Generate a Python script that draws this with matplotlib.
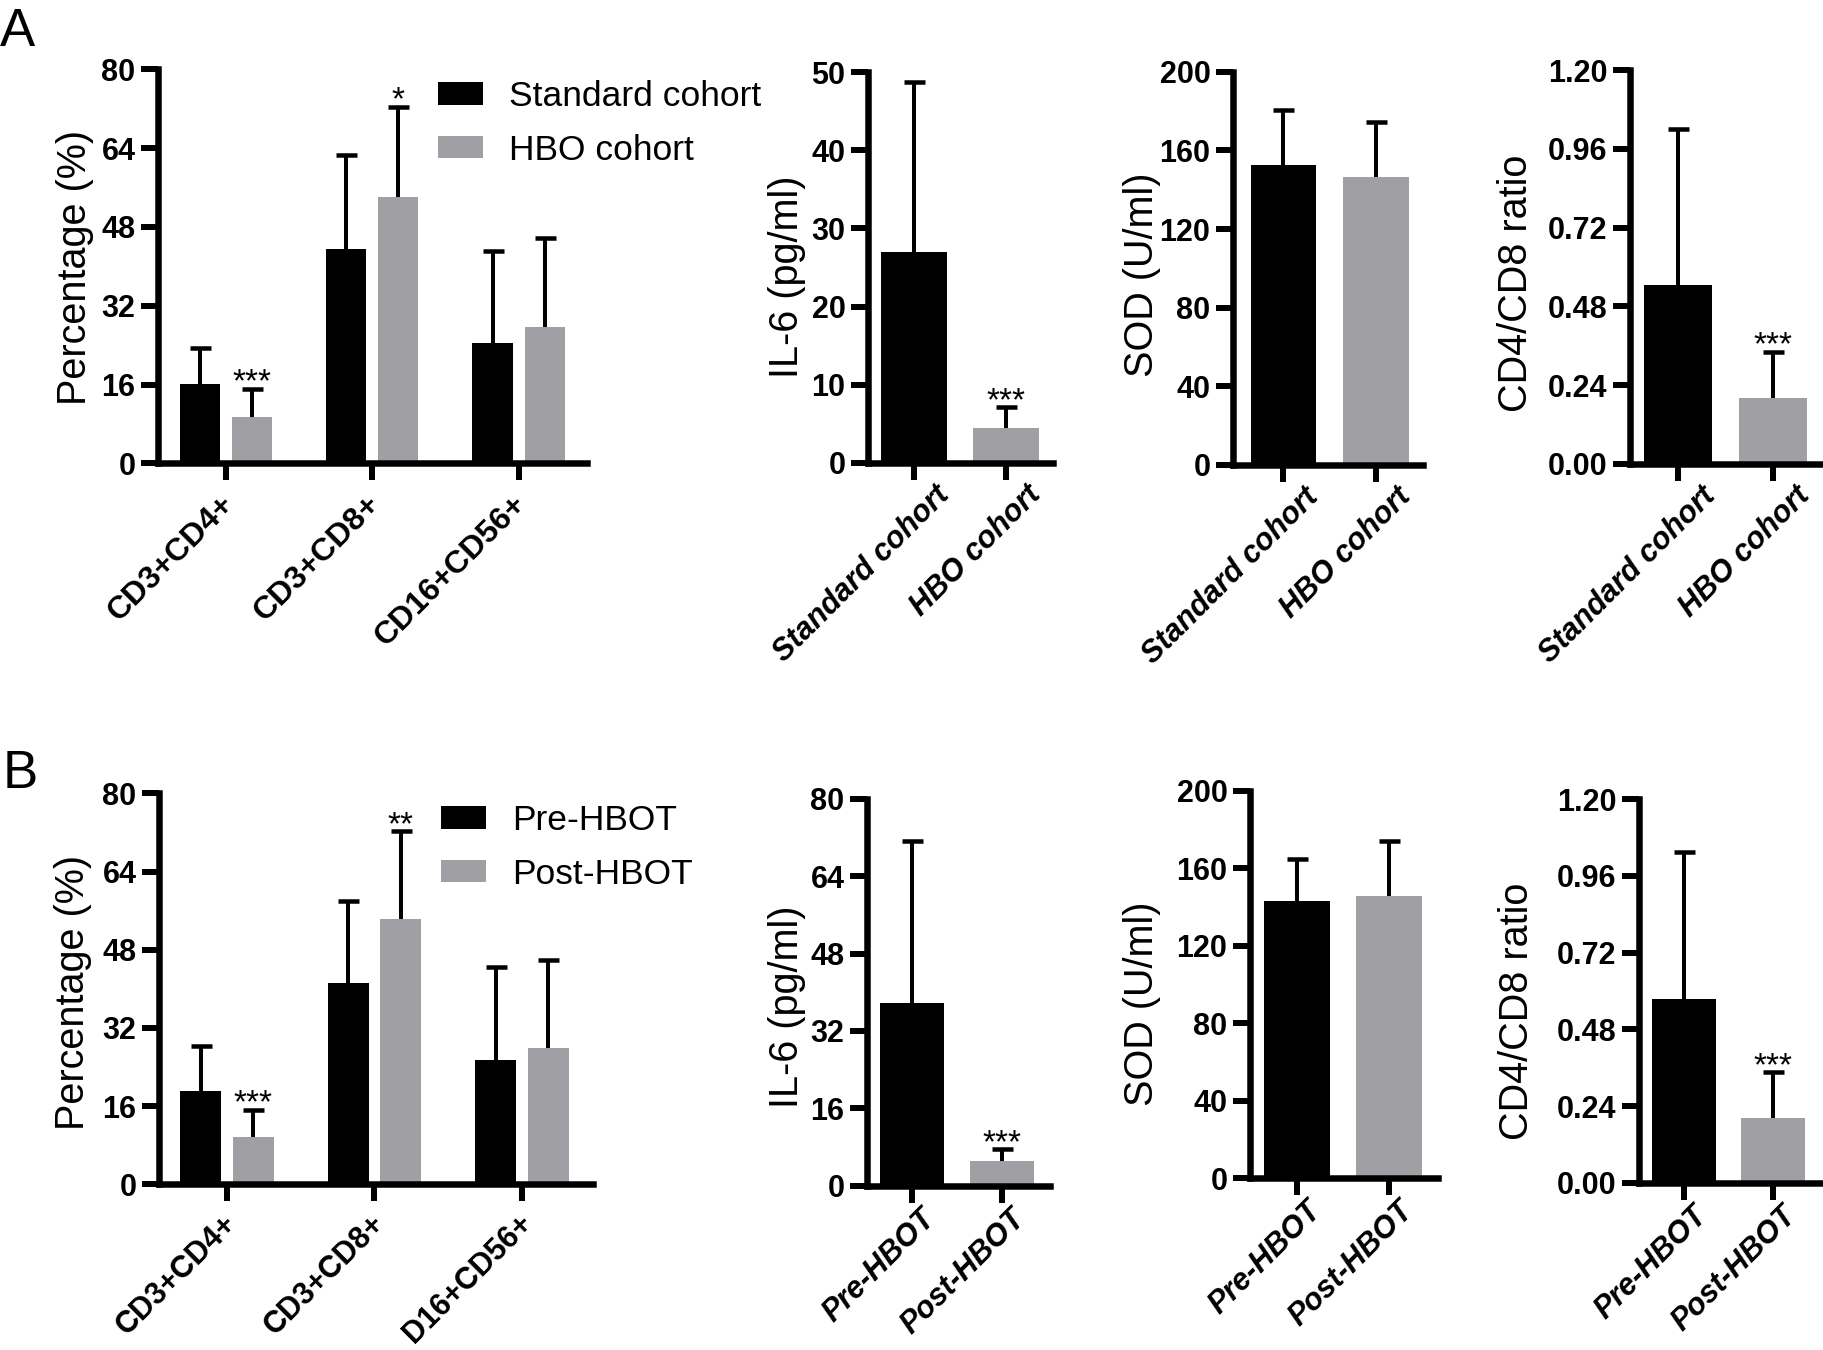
import matplotlib
matplotlib.use('Agg')
import matplotlib.pyplot as plt
from matplotlib.transforms import ScaledTranslation
from matplotlib.patches import Patch
import numpy as np

plt.rcParams['font.family'] = ['Liberation Sans', 'DejaVu Sans']

# ---------------- data ----------------
cohort_groups = ['Standard cohort', 'HBO cohort']
hbot_groups = ['Pre-HBOT', 'Post-HBOT']
cells_A = ['CD3+CD4+', 'CD3+CD8+', 'CD16+CD56+']
cells_B = ['CD3+CD4+', 'CD3+CD8+', 'D16+CD56+']

# Panel A
A_cells_std_mean = [16.2, 43.6, 24.4]
A_cells_std_sd = [7.2, 19.0, 18.7]
A_cells_hbo_mean = [9.5, 54.1, 27.7]
A_cells_hbo_sd = [5.6, 18.3, 18.1]
A_cells_hbo_sig = ['***', '*', '']

A_il6_mean = [27.0, 4.5]
A_il6_sd = [21.7, 2.6]
A_il6_sig = ['', '***']

A_sod_mean = [152.4, 146.5]
A_sod_sd = [27.9, 28.1]
A_sod_sig = ['', '']

A_ratio_mean = [0.545, 0.202]
A_ratio_sd = [0.474, 0.140]
A_ratio_sig = ['', '***']

# Panel B
B_cells_pre_mean = [19.1, 41.1, 25.4]
B_cells_pre_sd = [9.2, 16.9, 19.1]
B_cells_post_mean = [9.7, 54.2, 27.9]
B_cells_post_sd = [5.6, 18.0, 18.0]
B_cells_post_sig = ['***', '**', '']

B_il6_mean = [37.8, 5.1]
B_il6_sd = [33.5, 2.4]
B_il6_sig = ['', '***']

B_sod_mean = [142.9, 145.8]
B_sod_sd = [22.0, 28.2]
B_sod_sig = ['', '']

B_ratio_mean = [0.576, 0.203]
B_ratio_sd = [0.458, 0.142]
B_ratio_sig = ['', '***']

ticks_pct = [0, 16, 32, 48, 64, 80]
ticks_il6_A = [0, 10, 20, 30, 40, 50]
ticks_il6_B = [0, 16, 32, 48, 64, 80]
ticks_sod = [0, 40, 80, 120, 160, 200]
ticks_ratio = [0.00, 0.24, 0.48, 0.72, 0.96, 1.20]

ylab_pct = 'Percentage (%)'
ylab_il6 = 'IL-6 (pg/ml)'
ylab_sod = 'SOD (U/ml)'
ylab_ratio = 'CD4/CD8 ratio'

# ---------------- style ----------------
BLACK = '#000000'
GRAY = '#A0A0A4'
W, H = 1824, 1350
DPI = 100
PX = 72.0 / DPI  # points per pixel

fig = plt.figure(figsize=(W / DPI, H / DPI), dpi=DPI)
fig.patch.set_facecolor('white')


def add_ax(box, tick_px):
    l, r, t, b = box
    ax = fig.add_axes([l / W, 1 - b / H, (r - l) / W, (b - t) / H])
    sp = tick_px[1] - tick_px[0]
    ax.set_xlim((l - tick_px[0]) / sp, (r - tick_px[0]) / sp)
    return ax


def style(ax, yticks, fmt, xticks, xlabels, italic, xsize, xpad, dx_px,
          ylabel, ylab_center, box):
    ax.set_ylim(yticks[0], yticks[-1])
    ax.set_yticks(yticks)
    ax.set_yticklabels([fmt.format(v) for v in yticks])
    for s in ['top', 'right']:
        ax.spines[s].set_visible(False)
    for s in ['left', 'bottom']:
        ax.spines[s].set_linewidth(6.5 * PX)
        ax.spines[s].set_capstyle('projecting')
    ax.tick_params(axis='both', which='major', direction='out',
                   width=6 * PX, length=17 * PX, labelsize=22)
    ax.tick_params(axis='y', pad=4.0)
    ax.tick_params(axis='x', pad=xpad)
    for lab in ax.get_yticklabels():
        lab.set_fontweight('bold')
    ax.set_xticks(xticks)
    ax.set_xticklabels(xlabels, rotation=45, ha='right', va='top',
                       rotation_mode='anchor', fontsize=xsize, fontweight='bold',
                       fontstyle='italic' if italic else 'normal')
    off = ScaledTranslation(dx_px / DPI, 0, fig.dpi_scale_trans)
    for lab in ax.xaxis.get_majorticklabels():
        lab.set_transform(lab.get_transform() + off)
    ax.set_ylabel(ylabel, fontsize=28.5, va='center', ha='center')
    l, r, t, b = box
    cx, cy = ylab_center
    ax.yaxis.set_label_coords((cx - l) / (r - l), (b - cy) / (b - t))


def draw_bars(ax, x, means, sds, color, width, sig=None):
    x = np.asarray(x, dtype=float)
    means = np.asarray(means, dtype=float)
    tops = means + np.asarray(sds, dtype=float)
    ax.bar(x, means, width, color=color, linewidth=0, zorder=1)
    ax.vlines(x, means, tops, colors='black', linewidth=4 * PX, zorder=2)
    ax.plot(x, tops, linestyle='none', marker='_', markersize=21 * PX,
            markeredgewidth=4.5 * PX, color='black', zorder=2)
    if sig is not None:
        for xi, ti, s in zip(x, tops, sig):
            if s:
                ax.annotate(s, (xi, ti), xytext=(0, -2), textcoords='offset points',
                            ha='center', va='baseline', fontsize=24)


def legend(ax, labels, l_px, t_px):
    handles = [Patch(facecolor=BLACK, edgecolor='none'),
               Patch(facecolor=GRAY, edgecolor='none')]
    ax.legend(handles, labels, loc='upper left',
              bbox_to_anchor=(l_px / W, 1 - t_px / H), bbox_transform=fig.transFigure,
              frameon=False, fontsize=25.5, handlelength=1.27, handleheight=0.6,
              handletextpad=0.73, labelspacing=0.58, borderpad=0, borderaxespad=0)


def grouped_panel(box, tick_px, m1, s1, m2, s2, sig2, cats, groups, xsize, xpad, dx,
                  ylab_c, leg_pos):
    ax = add_ax(box, tick_px)
    x = np.arange(len(cats))
    draw_bars(ax, x - 0.178, m1, s1, BLACK, 0.275)
    draw_bars(ax, x + 0.178, m2, s2, GRAY, 0.275, sig2)
    style(ax, ticks_pct, '{:.0f}', x, cats, False, xsize, xpad, dx, ylab_pct, ylab_c, box)
    legend(ax, groups, *leg_pos)
    return ax


def pair_panel(box, tick_px, means, sds, sig, groups, yticks, fmt, ylabel, xpad, dx, ylab_c):
    ax = add_ax(box, tick_px)
    x = np.arange(len(groups))
    draw_bars(ax, x[:1], means[:1], sds[:1], BLACK, 0.71, sig[:1])
    draw_bars(ax, x[1:], means[1:], sds[1:], GRAY, 0.71, sig[1:])
    style(ax, yticks, fmt, x, groups, True, 22, xpad, dx, ylabel, ylab_c, box)
    return ax


# ---------------- Panel A ----------------
grouped_panel((158, 587, 69.3, 463.3), (226, 372.3),
              A_cells_std_mean, A_cells_std_sd, A_cells_hbo_mean, A_cells_hbo_sd,
              A_cells_hbo_sig, cells_A, cohort_groups, 23, 6.5, -7, (75, 267), (438, 80))
pair_panel((868, 1053, 72.3, 462.7), (914, 1006), A_il6_mean, A_il6_sd, A_il6_sig,
           cohort_groups, ticks_il6_A, '{:.0f}', ylab_il6, 0, 20, (787, 277))
pair_panel((1233, 1423, 71.7, 465), (1283.5, 1376), A_sod_mean, A_sod_sd, A_sod_sig,
           cohort_groups, ticks_sod, '{:.0f}', ylab_sod, 0, 20, (1142, 275))
pair_panel((1630, 1822, 70, 464), (1678, 1773), A_ratio_mean, A_ratio_sd, A_ratio_sig,
           cohort_groups, ticks_ratio, '{:.2f}', ylab_ratio, 0, 22, (1516, 283))

# ---------------- Panel B ----------------
grouped_panel((159, 593, 793.3, 1184.3), (227, 374.5),
              B_cells_pre_mean, B_cells_pre_sd, B_cells_post_mean, B_cells_post_sd,
              B_cells_post_sig, cells_B, hbot_groups, 22, 5.0, -5, (73, 992), (441, 804))
pair_panel((867, 1050, 798.7, 1185.7), (912, 1002), B_il6_mean, B_il6_sd, B_il6_sig,
           hbot_groups, ticks_il6_B, '{:.0f}', ylab_il6, 0.5, 8, (787, 1007))
pair_panel((1250, 1438, 790.7, 1178.3), (1297, 1389), B_sod_mean, B_sod_sd, B_sod_sig,
           hbot_groups, ticks_sod, '{:.0f}', ylab_sod, 0.5, 9, (1142, 1004))
pair_panel((1639, 1822, 799.3, 1182.7), (1684, 1773), B_ratio_mean, B_ratio_sd, B_ratio_sig,
           hbot_groups, ticks_ratio, '{:.2f}', ylab_ratio, 0.5, 8, (1517, 1011))

# panel letters
fig.text(0 / W, 1 - 46 / H, 'A', fontsize=38, ha='left', va='baseline')
fig.text(3 / W, 1 - 788 / H, 'B', fontsize=38, ha='left', va='baseline')

fig.savefig('out.png', dpi=DPI, facecolor='white')
